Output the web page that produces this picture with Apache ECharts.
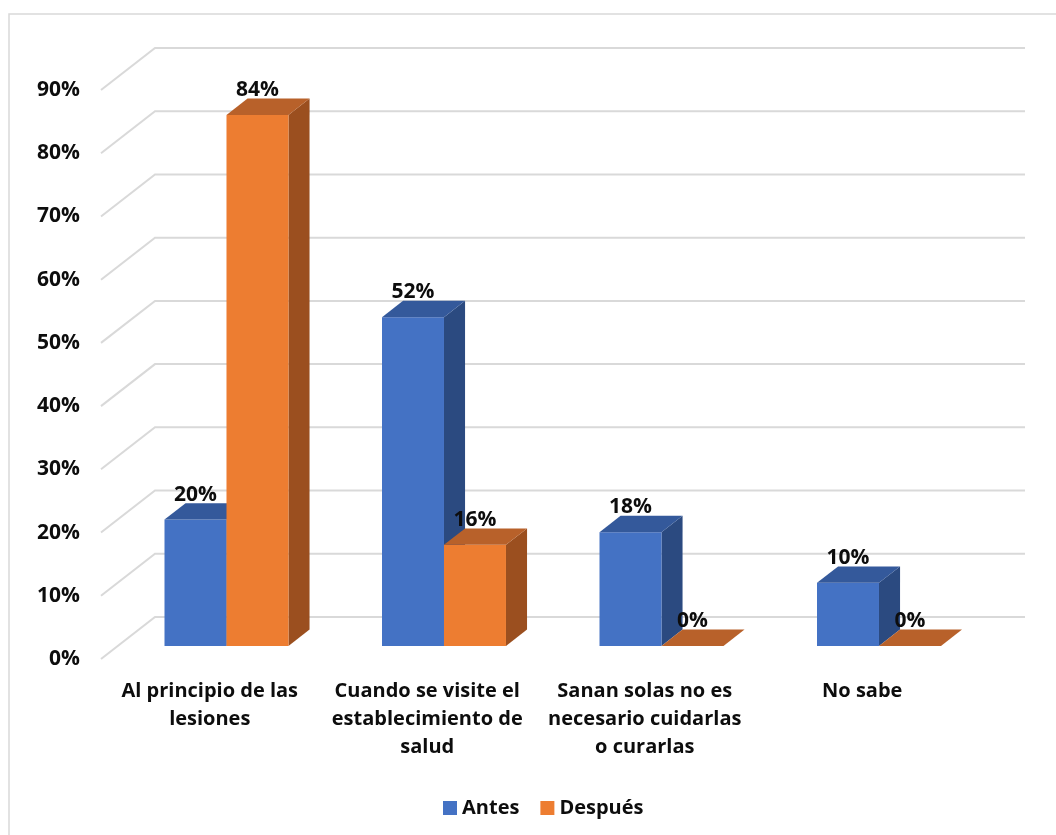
<!DOCTYPE html>
<html>
<head>
<meta charset="utf-8">
<title>Antes / Después</title>
<script src="https://cdn.jsdelivr.net/npm/echarts@6.0.0/dist/echarts.min.js"></script>
<style>
  html, body { margin: 0; padding: 0; background: #ffffff; }
  #chart { width: 1056px; height: 835px; }
</style>
</head>
<body>
<div id="chart"></div>
<script>
// Categories (wrapped the way they are printed under the floor)
const categories = [
  'Al principio de las\nlesiones',
  'Cuando se visite el\nestablecimiento de\nsalud',
  'Sanan solas no es\nnecesario cuidarlas\no curarlas',
  'No sabe'
];
// Percentages per group
const antes = [20, 52, 18, 10];
const despues = [84, 16, 0, 0];
// Value axis ticks (percent)
const yTicks = [0, 10, 20, 30, 40, 50, 60, 70, 80, 90];

const FONT = '"Open Sans", "Noto Sans", sans-serif';

// 3D perspective of the floor/back wall
const WALL_DX = 54;
const WALL_DY = 42;
const BAR_FRONT = 0.31;   // depth at which bars start (fraction of floor depth)
const BAR_DEPTH = 0.39;   // depth of each bar (fraction of floor depth)
const BAR_W = 0.285;      // bar width as fraction of category band

const palette = {
  antes:   { front: '#4472C4', top: '#34599B', side: '#2B4A80' },
  despues: { front: '#ED7D31', top: '#B8612A', side: '#9B4F1F' }
};

function wallRender(params, api) {
  const cs = params.coordSys;
  const y = api.coord([0, api.value(1)])[1];
  return {
    type: 'polyline',
    shape: { points: [[cs.x, y], [cs.x + WALL_DX, y - WALL_DY], [cs.x + cs.width + WALL_DX, y - WALL_DY]] },
    style: { stroke: '#D9D9D9', lineWidth: 2, fill: null }
  };
}

function barRender(side, colors) {
  return function (params, api) {
    const ci = api.value(0);
    const v = api.value(1);
    const base = api.coord([ci, 0]);
    const top = api.coord([ci, v]);
    const band = api.size([1, 0])[0];
    const w = band * BAR_W;
    const fx = base[0] + WALL_DX * BAR_FRONT + (side === 0 ? -w : 0);
    const fy0 = base[1] - WALL_DY * BAR_FRONT;
    const fy1 = top[1] - WALL_DY * BAR_FRONT;
    const ddx = WALL_DX * BAR_DEPTH;
    const ddy = WALL_DY * BAR_DEPTH;
    const children = [];
    if (fy0 - fy1 > 0.5) {
      children.push({
        type: 'polygon',
        shape: { points: [[fx + w, fy1], [fx + w + ddx, fy1 - ddy], [fx + w + ddx, fy0 - ddy], [fx + w, fy0]] },
        style: { fill: colors.side }
      });
      children.push({
        type: 'rect',
        shape: { x: fx, y: fy1, width: w, height: fy0 - fy1 },
        style: { fill: colors.front }
      });
    }
    children.push({
      type: 'polygon',
      shape: { points: [[fx, fy1], [fx + w, fy1], [fx + w + ddx, fy1 - ddy], [fx + ddx, fy1 - ddy]] },
      style: { fill: colors.top }
    });
    children.push({
      type: 'text',
      style: {
        x: fx + w / 2, y: fy1 - ddy + 2,
        text: v + '%',
        align: 'center', verticalAlign: 'bottom',
        fill: '#0D0D0D', font: 'bold 21px ' + FONT
      }
    });
    return { type: 'group', children: children };
  };
}

const chart = echarts.init(document.getElementById('chart'), null, { renderer: 'canvas' });
chart.setOption({
  backgroundColor: '#ffffff',
  animation: false,
  graphic: [{
    type: 'rect',
    shape: { x: 9, y: 14, width: 1200, height: 1000 },
    style: { fill: null, stroke: '#D9D9D9', lineWidth: 1.5 },
    silent: true, z: -10
  }],
  legend: {
    data: ['Antes', 'Después'],
    left: 438, top: 793,
    icon: 'rect', itemWidth: 14, itemHeight: 14, itemGap: 21,
    textStyle: { fontFamily: FONT, fontWeight: 'bold', fontSize: 20, color: '#0D0D0D' }
  },
  grid: { left: 101, right: 85, top: 90, bottom: 176, containLabel: false },
  xAxis: {
    type: 'category',
    data: categories,
    axisLine: { show: false },
    axisTick: { show: false },
    axisLabel: {
      interval: 0, margin: 18,
      fontFamily: FONT, fontWeight: 'bold', fontSize: 20, lineHeight: 28, color: '#0D0D0D'
    }
  },
  yAxis: {
    type: 'value',
    min: 0, max: 90, interval: 10,
    axisLine: { show: false },
    axisTick: { show: false },
    splitLine: { show: false },
    axisLabel: {
      margin: 21,
      formatter: function (val) { return yTicks.indexOf(val) >= 0 ? val + '%' : ''; },
      fontFamily: FONT, fontWeight: 'bold', fontSize: 21, color: '#0D0D0D'
    }
  },
  series: [
    {
      type: 'custom', name: 'wall', silent: true, z: 1,
      renderItem: wallRender,
      data: yTicks.map(function (t) { return [0, t]; }),
      encode: { x: 0, y: 1 }
    },
    {
      type: 'custom', name: 'Antes', z: 2,
      itemStyle: { color: palette.antes.front },
      renderItem: barRender(0, palette.antes),
      data: antes.map(function (v, i) { return [i, v]; }),
      encode: { x: 0, y: 1 }
    },
    {
      type: 'custom', name: 'Después', z: 3,
      itemStyle: { color: palette.despues.front },
      renderItem: barRender(1, palette.despues),
      data: despues.map(function (v, i) { return [i, v]; }),
      encode: { x: 0, y: 1 }
    }
  ]
});
</script>
</body>
</html>
